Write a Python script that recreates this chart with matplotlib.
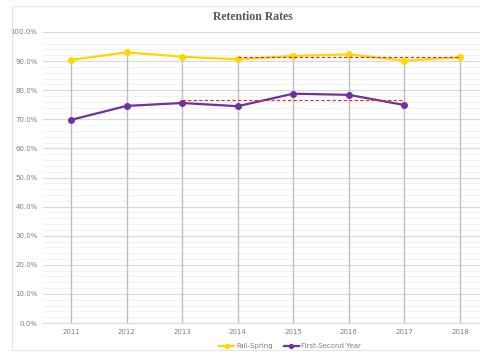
import matplotlib

matplotlib.use("Agg")
import matplotlib.pyplot as plt
from matplotlib.patches import Rectangle
from matplotlib.ticker import MultipleLocator, PercentFormatter

years = ["2011", "2012", "2013", "2014", "2015", "2016", "2017", "2018"]
fall_spring = [90.4, 93.0, 91.5, 90.6, 91.8, 92.3, 90.2, 91.3]
first_second = [69.8, 74.6, 75.6, 74.5, 78.8, 78.4, 74.9]

# average reference lines (start index, end index, level)
fs_avg = (3, 7, 91.3)
fy_avg = (2, 6, 76.5)

YELLOW = "#FFD700"
PURPLE = "#7030A0"
TEXT = "#7f7f7f"

fig = plt.figure(figsize=(4.8, 3.56), dpi=100)
fig.patches.append(Rectangle((12 / 480, 6 / 356), 1, 344 / 356, transform=fig.transFigure,
                             fill=False, edgecolor="#e3e3e3", lw=0.8))

ax = fig.add_axes([43 / 480, 1 - 323 / 356, (480 - 43) / 480, (323 - 32) / 356])
x = list(range(len(years)))

ax.set_ylim(0, 100)
ax.set_xlim(-0.504, 7.36)
ax.yaxis.set_major_locator(MultipleLocator(10))
ax.yaxis.set_minor_locator(MultipleLocator(2))
ax.yaxis.set_major_formatter(PercentFormatter(decimals=1))
ax.grid(axis="y", which="major", color="#d9d9d9", lw=0.8)
ax.grid(axis="y", which="minor", color="#f0f0f0", lw=0.6)
ax.set_axisbelow(True)
for s in ["top", "right", "left"]:
    ax.spines[s].set_visible(False)
ax.spines["bottom"].set_color("#d9d9d9")
ax.tick_params(axis="both", which="both", length=0, labelsize=5, colors=TEXT, pad=4)
ax.set_xticks(x)
ax.set_xticklabels(years)

# drop lines
ax.vlines(x, 0, fall_spring, color="#bfbfbf", lw=1.0, zorder=1)

ax.plot(x, fall_spring, color=YELLOW, lw=1.6, marker="o", ms=4, label="Fall-Spring", zorder=3)
ax.plot(x[:len(first_second)], first_second, color=PURPLE, lw=1.6, marker="o", ms=4,
        label="First-Second Year", zorder=3)

for a, b, lvl in (fs_avg, fy_avg):
    ax.hlines(lvl, a, b, color="#ff2020", lw=0.8, linestyles=(0, (3, 2)), zorder=4)

fig.text(253 / 480, 1 - 17 / 356, "Retention Rates", ha="center", va="center",
         fontsize=8.5, fontweight="bold", family="Liberation Serif", color="#595959")

fig.legend(loc="center", bbox_to_anchor=(290 / 480, 1 - 346 / 356), ncol=2, frameon=False,
           fontsize=5, labelcolor=TEXT, handlelength=2.2, markerscale=0.7, columnspacing=1.5,
           handletextpad=0.3)

fig.savefig("out.png", dpi=100)
